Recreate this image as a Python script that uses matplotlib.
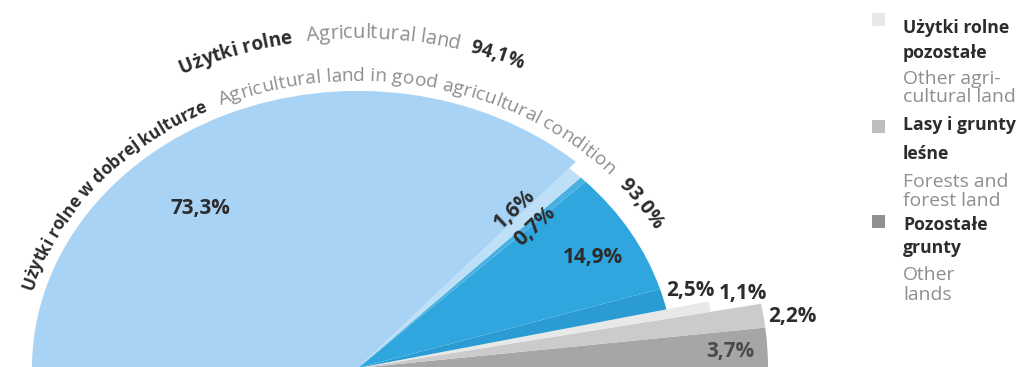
import numpy as np
import matplotlib
matplotlib.use("Agg")
import matplotlib.pyplot as plt
from matplotlib import font_manager as fm
from matplotlib.patches import Wedge, Rectangle
from matplotlib.transforms import Affine2D
from matplotlib.font_manager import FontProperties

# land use structure, % of total area (half disc = 100%), counterclockwise from the right
shares = [3.7, 2.2, 1.1, 2.5, 14.9, 0.7, 1.6, 73.3]
share_labels = ["3,7%", "2,2%", "1,1%", "2,5%", "14,9%", "0,7%", "1,6%", "73,3%"]
good_condition_total = "93,0%"
agricultural_total = "94,1%"

legend_pl = ["Użytki rolne\npozostałe", "Lasy i grunty\nleśne", "Pozostałe\ngrunty"]
legend_en = ["Other agri-\ncultural land", "Forests and\nforest land", "Other\nlands"]

W, H = 1019, 367
CX, CY, K = 358, 368, 0.85  # centre of the half disc (pixels) and vertical squash

colors = ["#a6a6a6", "#cbcbcb", "#e8e8e8", "#2b9bd3", "#2fa6dd", "#48b0e2", "#bde0f6", "#a9d3f5"]
radii = [410, 410, 359, 316, 316, 316, 316, 326]
legend_colors = ["#e8e8e8", "#bebebe", "#909090"]

# label placement as (angle in degrees, radius, rotation)
label_pos = [(2.9, 373, 0), (7.9, 439, 0), (12.9, 395, 0), (15.4, 345, 0),
             (29.0, 269, 0), (43.3, 243, 43), (50.0, 243, 43), (130.0, 245, 0)]

DARK = "#2c2c2c"
GREY = "#8e8e8e"


def pick_font():
    found = {}
    for f in fm.fontManager.ttflist:
        if f.stretch != "normal":
            found.setdefault(f.name, f.stretch)
    for name in ["Noto Sans", "Open Sans", "Roboto Condensed", "Liberation Sans Narrow",
                 "DejaVu Sans", "Roboto"]:
        if name in found and "condensed" in str(found[name]):
            return name, found[name]
    return "DejaVu Sans", "normal"


FAMILY, STRETCH = pick_font()


def fprop(size, bold=False):
    # headings in a condensed bold cut, English glosses in the regular width
    if bold:
        return FontProperties(family=[FAMILY, "DejaVu Sans"], stretch=STRETCH,
                              weight="bold", size=size)
    return FontProperties(family=[FAMILY, "DejaVu Sans"], stretch="normal",
                          weight="normal", size=size)


def ell(theta, r):
    t = np.radians(theta)
    return CX + r * np.cos(t), CY - K * r * np.sin(t)


def text_adv(renderer, s, prop):
    w = lambda t: renderer.get_text_width_height_descent(t, prop, ismath=False)[0]
    return w("|" + s + "|") - w("||")


def fit_size(renderer, s, bold, width):
    return 10 * width / text_adv(renderer, s, fprop(10, bold))


def arc_text(ax, renderer, segments, r):
    """Write each segment clockwise along the squashed arc between two angles."""
    th = np.linspace(180, 0, 8000)
    t = np.radians(th)
    speed = r * np.sqrt(np.sin(t) ** 2 + (K * np.cos(t)) ** 2)
    arc = np.concatenate([[0], np.cumsum(0.5 * (speed[1:] + speed[:-1]) * np.abs(np.diff(t)))])
    for text, bold, color, a0, a1 in segments:
        s0 = np.interp(-a0, -th, arc)
        s1 = np.interp(-a1, -th, arc)
        prop = fprop(fit_size(renderer, text, bold, s1 - s0), bold)
        total = text_adv(renderer, text, prop)
        for i, ch in enumerate(text):
            if ch == " ":
                continue
            c = 0.5 * (text_adv(renderer, text[:i], prop) + text_adv(renderer, text[:i + 1], prop))
            ang = np.interp(s0 + c * (s1 - s0) / total, arc, th)
            x, y = ell(ang, r)
            tr = np.radians(ang)
            rot = np.degrees(np.arctan2(-K * np.cos(tr), np.sin(tr)))
            ax.text(x, y, ch, fontproperties=prop, color=color, rotation=rot,
                    rotation_mode="anchor", ha="center", va="baseline")


fig = plt.figure(figsize=(W / 100, H / 100), dpi=100)
ax = fig.add_axes([0, 0, 1, 1])
ax.set_xlim(0, W)
ax.set_ylim(H, 0)
ax.axis("off")
renderer = fig.canvas.get_renderer()

pie_tr = Affine2D().scale(1, -K).translate(CX, CY) + ax.transData
theta = 0.0
for val, col, r in zip(shares, colors, radii):
    span = val * 1.8
    ax.add_patch(Wedge((0, 0), r, theta, theta + span, facecolor=col,
                       edgecolor="none", transform=pie_tr))
    theta += span

pct = fprop(fit_size(renderer, "73,3%", True, 60), True)
for lab, (ang, r, rot) in zip(share_labels, label_pos):
    x, y = ell(ang, r)
    ax.text(x, y, lab, fontproperties=pct, color="#4a4a4a" if lab == "3,7%" else DARK,
            rotation=rot, rotation_mode="anchor", ha="center", va="center")

arc_text(ax, renderer, [("Użytki rolne w dobrej kulturze", True, DARK, 164.5, 116.5),
                        ("Agricultural land in good agricultural condition", False, GREY, 114.0, 42.0),
                        (good_condition_total, True, DARK, 39.5, 28.7)], 338)
arc_text(ax, renderer, [("Użytki rolne", True, DARK, 117.0, 99.7),
                        ("Agricultural land", False, GREY, 97.6, 74.9),
                        (agricultural_total, True, DARK, 73.3, 65.1)], 388)

# legend
lb = fprop(fit_size(renderer, "Lasy i grunty", True, 113), True)
lr = fprop(fit_size(renderer, "cultural land", False, 113))
baselines = [[33, 58, 84, 102], [130, 159, 187, 206], [230, 253, 280, 300]]
box_tops = [13, 120, 215]
for pl, en, col, ys, top in zip(legend_pl, legend_en, legend_colors, baselines, box_tops):
    ax.add_patch(Rectangle((872, top), 13, 13, facecolor=col, edgecolor="none"))
    lines = [(s, lb, DARK) for s in pl.split("\n")] + [(s, lr, GREY) for s in en.split("\n")]
    for (line, prop, col_t), y in zip(lines, ys):
        ax.text(903, y, line, fontproperties=prop, color=col_t, va="baseline")

fig.savefig("out.png", dpi=100)
